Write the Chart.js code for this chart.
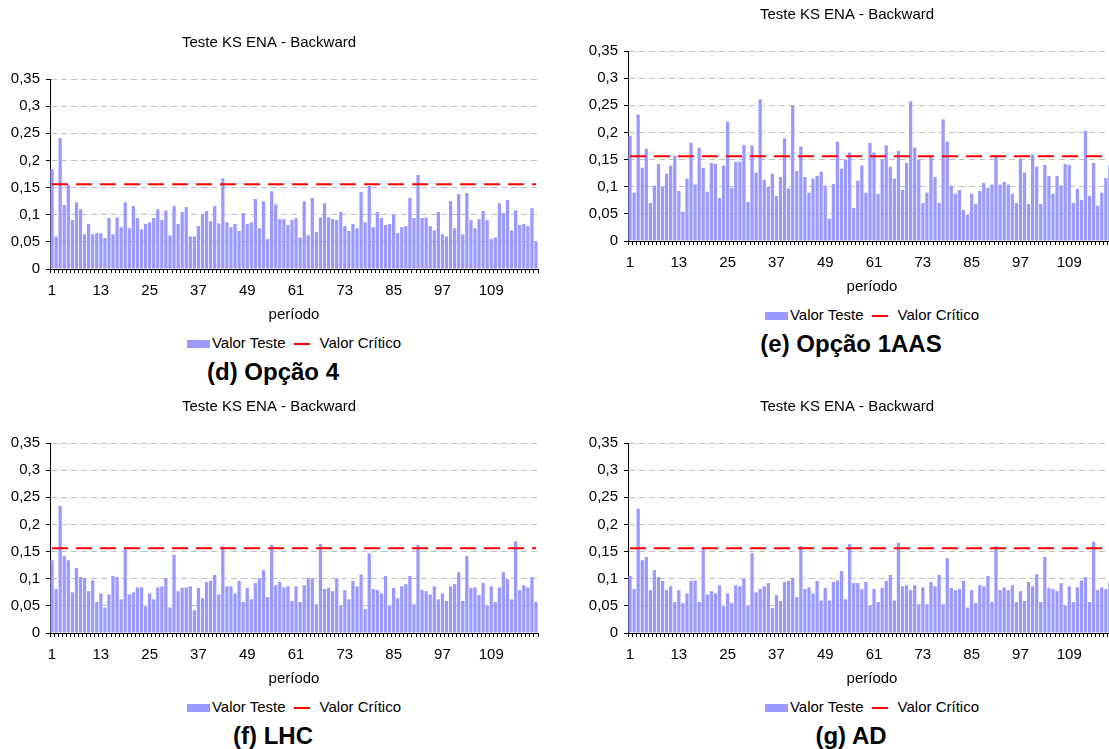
<!DOCTYPE html>
<html lang="pt">
<head>
<meta charset="utf-8">
<title>Teste KS ENA - Backward</title>
<script src="https://cdn.jsdelivr.net/npm/chart.js@4.4.0/dist/chart.umd.min.js"></script>
<style>
body {margin: 0; background: #fff; overflow: hidden; width: 1109px; height: 749px; position: relative; font-family: "Liberation Sans", Arial, sans-serif; color: #000;}
.painel {position: absolute; width: 546px; height: 372px;}
.painel canvas {position: absolute; left: 0; top: 0;}
.legenda {position: absolute; left: 50px; width: 488px; top: 303px; height: 20px; line-height: 20px; font-size: 15px; text-align: center; white-space: nowrap;}
.legenda .caixa {display: inline-block; width: 23px; height: 8px; background: #9999ff; vertical-align: middle; margin-right: 2px;}
.legenda .traco {display: inline-block; width: 16px; height: 2px; background: #ff0000; vertical-align: middle; margin: 0 10px 0 8px;}
.rotulo {position: absolute; left: 0; width: 546px; top: 328px; height: 28px; line-height: 28px; font-size: 24px; font-weight: bold; text-align: center; white-space: nowrap;}
</style>
</head>
<body>
<script>
// periodos 1..120 no eixo x, so alguns recebem rotulo
var periodos = [];
for (var p = 1; p <= 120; p++) periodos.push(String(p));
var rotulosX = ['1', '13', '25', '37', '49', '61', '73', '85', '97', '109'];

// valor critico do teste KS
var valorCritico = 0.156;

// estatistica KS por periodo, uma lista por opcao
var opcao4 = [
  0.184, 0.060, 0.241, 0.118, 0.155, 0.090, 0.123, 0.110, 0.064, 0.083,
  0.064, 0.066, 0.066, 0.057, 0.094, 0.064, 0.095, 0.077, 0.123, 0.075,
  0.116, 0.094, 0.073, 0.083, 0.086, 0.094, 0.110, 0.090, 0.108, 0.062,
  0.116, 0.083, 0.105, 0.114, 0.060, 0.060, 0.079, 0.101, 0.107, 0.088,
  0.116, 0.084, 0.167, 0.086, 0.077, 0.083, 0.070, 0.103, 0.083, 0.086,
  0.129, 0.075, 0.125, 0.055, 0.143, 0.119, 0.092, 0.092, 0.081, 0.090,
  0.094, 0.058, 0.125, 0.062, 0.131, 0.068, 0.095, 0.121, 0.095, 0.092,
  0.090, 0.105, 0.079, 0.070, 0.083, 0.075, 0.142, 0.086, 0.153, 0.077,
  0.105, 0.094, 0.081, 0.083, 0.101, 0.066, 0.077, 0.079, 0.131, 0.094,
  0.173, 0.094, 0.095, 0.079, 0.071, 0.105, 0.064, 0.060, 0.125, 0.075,
  0.138, 0.064, 0.140, 0.090, 0.075, 0.092, 0.107, 0.090, 0.055, 0.058,
  0.121, 0.103, 0.127, 0.071, 0.108, 0.081, 0.083, 0.079, 0.112, 0.051
];
var opcao1AAS = [
  0.194, 0.089, 0.233, 0.135, 0.170, 0.070, 0.102, 0.142, 0.100, 0.124,
  0.139, 0.157, 0.092, 0.054, 0.115, 0.181, 0.104, 0.172, 0.135, 0.091,
  0.144, 0.142, 0.079, 0.139, 0.220, 0.098, 0.146, 0.146, 0.177, 0.072,
  0.176, 0.126, 0.261, 0.113, 0.100, 0.124, 0.083, 0.118, 0.189, 0.097,
  0.249, 0.129, 0.174, 0.118, 0.089, 0.115, 0.120, 0.128, 0.102, 0.041,
  0.105, 0.183, 0.133, 0.150, 0.163, 0.061, 0.111, 0.139, 0.089, 0.181,
  0.163, 0.087, 0.150, 0.176, 0.137, 0.115, 0.166, 0.094, 0.144, 0.257,
  0.172, 0.150, 0.070, 0.089, 0.155, 0.118, 0.070, 0.224, 0.183, 0.102,
  0.087, 0.094, 0.057, 0.049, 0.087, 0.068, 0.092, 0.107, 0.098, 0.104,
  0.155, 0.104, 0.109, 0.104, 0.087, 0.070, 0.152, 0.126, 0.068, 0.159,
  0.137, 0.068, 0.140, 0.120, 0.087, 0.120, 0.102, 0.142, 0.140, 0.070,
  0.096, 0.076, 0.203, 0.083, 0.144, 0.065, 0.089, 0.116, 0.140, 0.100
];
var lhc = [
  0.134, 0.081, 0.234, 0.142, 0.134, 0.075, 0.120, 0.103, 0.101, 0.077,
  0.097, 0.057, 0.073, 0.047, 0.071, 0.105, 0.103, 0.062, 0.155, 0.071,
  0.075, 0.084, 0.084, 0.049, 0.073, 0.062, 0.084, 0.086, 0.101, 0.047,
  0.144, 0.077, 0.083, 0.084, 0.086, 0.042, 0.083, 0.064, 0.094, 0.096,
  0.107, 0.071, 0.160, 0.086, 0.086, 0.073, 0.096, 0.057, 0.083, 0.062,
  0.092, 0.101, 0.116, 0.066, 0.162, 0.088, 0.094, 0.084, 0.086, 0.059,
  0.086, 0.057, 0.088, 0.101, 0.101, 0.053, 0.164, 0.081, 0.083, 0.077,
  0.101, 0.051, 0.079, 0.062, 0.096, 0.086, 0.108, 0.044, 0.147, 0.081,
  0.079, 0.073, 0.105, 0.051, 0.083, 0.064, 0.086, 0.090, 0.105, 0.053,
  0.162, 0.079, 0.077, 0.071, 0.086, 0.062, 0.073, 0.059, 0.086, 0.090,
  0.112, 0.059, 0.142, 0.083, 0.084, 0.070, 0.092, 0.051, 0.086, 0.057,
  0.084, 0.112, 0.099, 0.062, 0.169, 0.079, 0.088, 0.084, 0.103, 0.057
];
var ad = [
  0.105, 0.081, 0.229, 0.134, 0.140, 0.079, 0.116, 0.103, 0.096, 0.079,
  0.086, 0.057, 0.079, 0.055, 0.073, 0.096, 0.097, 0.057, 0.158, 0.071,
  0.077, 0.073, 0.088, 0.049, 0.073, 0.055, 0.088, 0.086, 0.101, 0.051,
  0.147, 0.075, 0.081, 0.086, 0.092, 0.046, 0.070, 0.059, 0.094, 0.096,
  0.101, 0.066, 0.160, 0.081, 0.084, 0.073, 0.096, 0.060, 0.083, 0.060,
  0.094, 0.097, 0.114, 0.062, 0.164, 0.092, 0.092, 0.081, 0.094, 0.051,
  0.081, 0.057, 0.083, 0.096, 0.107, 0.060, 0.166, 0.086, 0.088, 0.079,
  0.088, 0.053, 0.084, 0.053, 0.094, 0.086, 0.107, 0.053, 0.138, 0.083,
  0.079, 0.081, 0.096, 0.047, 0.079, 0.055, 0.088, 0.086, 0.105, 0.057,
  0.160, 0.079, 0.084, 0.079, 0.088, 0.057, 0.077, 0.059, 0.094, 0.086,
  0.108, 0.057, 0.140, 0.083, 0.081, 0.077, 0.092, 0.051, 0.086, 0.057,
  0.084, 0.097, 0.103, 0.057, 0.168, 0.079, 0.084, 0.081, 0.094, 0.090
];

// os quatro graficos, na ordem da pagina
var paineis = [
  {rotulo: '(d) Opção 4', valores: opcao4, esq: 0, topo: 30},
  {rotulo: '(e) Opção 1AAS', valores: opcao1AAS, esq: 578, topo: 2},
  {rotulo: '(f) LHC', valores: lhc, esq: 0, topo: 394},
  {rotulo: '(g) AD', valores: ad, esq: 578, topo: 394}
];

Chart.defaults.font.family = '"Liberation Sans", Arial, sans-serif';
Chart.defaults.font.size = 15;
Chart.defaults.color = '#000';

paineis.forEach(function (painel) {
  var zona = document.createElement('div');
  zona.className = 'painel';
  zona.style.left = painel.esq + 'px';
  zona.style.top = painel.topo + 'px';
  document.body.appendChild(zona);

  var canvas = document.createElement('canvas');
  canvas.width = 546;
  canvas.height = 294;
  zona.appendChild(canvas);

  // legenda em html, abaixo do titulo do eixo x
  var legenda = document.createElement('div');
  legenda.className = 'legenda';
  legenda.innerHTML = '<span class="caixa"></span>Valor Teste<span class="traco"></span>Valor Crítico';
  zona.appendChild(legenda);

  var rotulo = document.createElement('div');
  rotulo.className = 'rotulo';
  rotulo.textContent = painel.rotulo;
  zona.appendChild(rotulo);

  new Chart(canvas.getContext('2d'), {
    type: 'bar',
    data: {
      labels: periodos,
      datasets: [{
        type: 'line',
        label: 'Valor Crítico',
        data: [{x: periodos[0], y: valorCritico}, {x: periodos[periodos.length - 1], y: valorCritico}],
        borderColor: '#ff0000',
        borderWidth: 2,
        borderDash: [16, 8],
        pointRadius: 0,
        order: 0
      }, {
        label: 'Valor Teste',
        data: painel.valores,
        backgroundColor: '#9999ff',
        barPercentage: 0.8,
        categoryPercentage: 1,
        order: 1
      }]
    },
    options: {
      responsive: false,
      animation: false,
      layout: {padding: {left: 0, right: 8, top: 0, bottom: 0}},
      plugins: {
        legend: {display: false},
        tooltip: {enabled: false},
        title: {
          display: true,
          text: 'Teste KS ENA - Backward',
          font: {size: 15, weight: 'normal'},
          padding: {top: 4, bottom: 27}
        }
      },
      scales: {
        x: {
          grid: {display: true, offset: true, drawOnChartArea: false, drawTicks: true, tickLength: 4, color: '#000', tickColor: '#000'},
          border: {color: '#000'},
          ticks: {
            autoSkip: false, maxRotation: 0, minRotation: 0, padding: 9,
            callback: function (v, i) { return rotulosX.indexOf(periodos[i]) >= 0 ? periodos[i] : ''; }
          },
          title: {display: true, text: 'período', padding: {top: -3, bottom: 0}}
        },
        y: {
          min: 0,
          max: 0.35,
          afterFit: function (escala) { escala.width = 50; },
          grid: {color: '#c0c0c0', tickColor: '#000', tickLength: 4},
          border: {color: '#000', dash: [6, 4]},
          ticks: {
            stepSize: 0.05, padding: 6,
            callback: function (v) { return String(+v.toFixed(2)).replace('.', ','); }
          }
        }
      }
    }
  });
});
</script>
</body>
</html>
